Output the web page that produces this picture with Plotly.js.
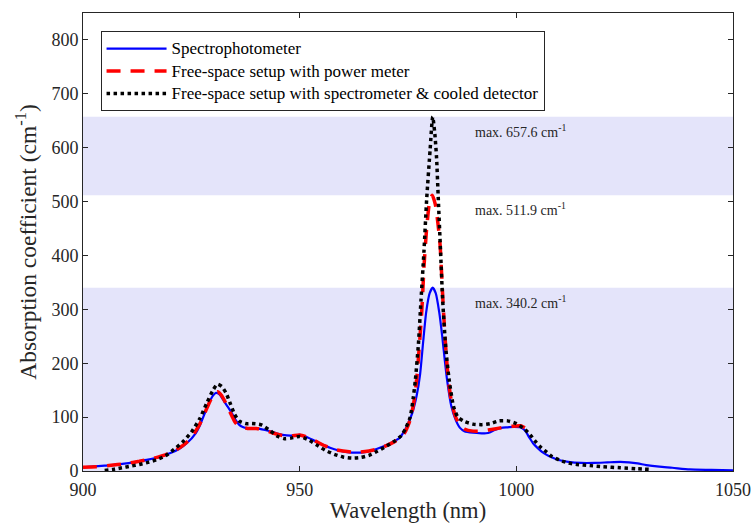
<!DOCTYPE html>
<html>
<head>
<meta charset="utf-8">
<script src="https://cdn.plot.ly/plotly-3.0.1.min.js"></script>
<style>
  html, body { margin: 0; padding: 0; background: #fff; }
  #chart { width: 755px; height: 529px; }
</style>
</head>
<body>
<div id="chart"></div>
<script>
// Spectrophotometer measurement (nm, cm^-1)
const specWl = [900, 902, 905, 908, 910, 913, 915, 918, 920, 922, 924, 926, 927, 928, 929, 930, 930.7, 931.5, 932.5, 933.5, 934.5, 935.5, 936.5, 938, 940, 942, 944, 945, 947, 949, 950, 951, 953, 955, 957, 959, 961, 963, 965, 967, 968.5, 970, 971.5, 973, 974, 975, 976, 977, 977.8, 978.5, 979.2, 980, 980.7, 981.4, 982.2, 982.9, 983.5, 984, 985, 986, 987, 988, 990, 992, 993, 994, 995, 996.5, 998, 999.5, 1001, 1002, 1003, 1004, 1005, 1006, 1007, 1008, 1010, 1012, 1015, 1018, 1021, 1024, 1026, 1028, 1030, 1033, 1036, 1040, 1045, 1050];
const specAbs = [7, 8, 10, 12, 14, 18, 21, 27, 33, 40, 52, 70, 85, 105, 125, 140, 145, 142, 130, 118, 105, 91, 83, 79, 79, 76, 72, 69, 66, 66, 67, 65, 58, 50, 43, 38, 35, 34, 35, 39, 43, 48, 54, 61, 72, 88, 108, 140, 180, 240, 295, 330, 340.2, 330, 295, 250, 205, 170, 120, 95, 80, 74, 71, 70, 70, 72, 76, 80, 81, 82, 81, 75, 62, 50, 42, 35, 30, 26, 20, 17, 15, 15, 16, 17, 16, 14, 11, 8, 6, 3, 2, 1];

// Free-space setup with power meter
const pmWl = [900, 903, 906, 910, 913, 916, 919, 921, 923, 925, 927, 928.5, 930, 931, 932, 933, 934, 935, 936, 938, 940, 942, 944, 946, 948, 950, 952, 954, 956, 958, 960, 962, 964, 966, 968, 970, 972, 973.5, 974.5, 975.5, 976.3, 977, 977.6, 978.2, 978.7, 979.3, 980, 980.6, 981.3, 981.9, 982.4, 983.1, 983.7, 984.3, 985, 986, 987, 988, 990, 992, 993.5, 995, 997, 999, 1001, 1002];
const pmAbs = [7, 8, 10, 14, 18, 23, 30, 37, 47, 62, 88, 115, 140, 147, 140, 125, 108, 92, 83, 79, 79, 76, 70, 66, 65, 67, 62, 54, 46, 40, 37, 35, 35, 37, 41, 47, 55, 63, 75, 95, 125, 170, 230, 300, 380, 450, 500, 511.9, 495, 460, 420, 310, 230, 170, 130, 100, 85, 78, 74, 74, 76, 78, 81, 83, 84, 80];

// Free-space setup with spectrometer & cooled detector
const ccdWl = [905, 907, 909, 911, 913, 915, 917, 919, 921, 923, 925, 927, 928.5, 930, 931, 932, 933, 934, 935, 936, 937.5, 939, 941, 943, 945, 946.5, 948, 950, 952, 954, 956, 958, 960, 962, 964, 966, 968, 970, 972, 973.5, 974.5, 975.5, 976.2, 976.7, 977.4, 978, 978.7, 979.3, 980.1, 980.7, 981.2, 981.6, 982, 982.5, 983, 983.7, 984.5, 985.5, 986.5, 988, 990, 992, 994, 996, 998, 1000, 1002, 1003.2, 1004.5, 1005.5, 1007, 1008, 1010, 1012, 1014, 1017, 1020, 1024, 1028, 1031];
const ccdAbs = [1, 3, 6, 9, 12, 16, 21, 28, 40, 54, 72, 98, 125, 150, 161, 157, 145, 125, 105, 93, 88, 88, 86, 76, 64, 60, 61, 64, 58, 48, 38, 31, 26, 24, 25, 29, 37, 46, 56, 66, 80, 100, 135, 169, 235, 317, 410, 503, 596, 657.6, 625, 580, 503, 410, 317, 230, 169, 120, 100, 92, 87, 86, 88, 93, 93, 88, 77, 67, 54, 45, 35, 28, 20, 15, 12, 10, 8, 6, 4, 3];

const seriesNames = [
  'Spectrophotometer',
  'Free-space setup with power meter',
  'Free-space setup with spectrometer &amp; cooled detector'
];
const peakMax = [340.2, 511.9, 657.6];
const xTicks = [900, 950, 1000, 1050];
const yTicks = [0, 100, 200, 300, 400, 500, 600, 700, 800];

const serif = 'Liberation Serif, Times New Roman, serif';
const inkGray = '#262626';
const bandFill = '#e4e4fa';

// legend entries are set slightly larger than the row pitch of the legend font
const legendLabel = s => '<span style="font-size:17px">' + s + '</span>';

const traces = [
  { x: specWl, y: specAbs, name: legendLabel(seriesNames[0]), mode: 'lines',
    line: { color: '#0000ff', width: 2.2, shape: 'spline', smoothing: 0.6 } },
  { x: pmWl, y: pmAbs, name: legendLabel(seriesNames[1]), mode: 'lines',
    line: { color: '#ff0000', width: 3.5, dash: '14px,10px', shape: 'spline', smoothing: 0.6 } },
  { x: ccdWl, y: ccdAbs, name: legendLabel(seriesNames[2]), mode: 'lines',
    line: { color: '#000000', width: 3.5, dash: '3.5px,3.5px', shape: 'spline', smoothing: 0.6 } }
];

// Shaded bands: 0 .. first max, and second max .. third max
const shapes = [
  { type: 'rect', xref: 'paper', x0: 0, x1: 1, yref: 'y', y0: 0, y1: peakMax[0],
    fillcolor: bandFill, line: { width: 0 }, layer: 'below' },
  { type: 'rect', xref: 'paper', x0: 0, x1: 1, yref: 'y', y0: peakMax[1], y1: peakMax[2],
    fillcolor: bandFill, line: { width: 0 }, layer: 'below' }
];

const annotations = peakMax.map(v => ({
  x: 990, y: v, xref: 'x', yref: 'y', xanchor: 'left', yanchor: 'top', yshift: -3,
  text: 'max. ' + v.toFixed(1) + ' cm<sup>-1</sup>', showarrow: false,
  font: { family: serif, size: 14, color: inkGray }
}));

const layout = {
  width: 755, height: 529,
  margin: { l: 83, r: 22, t: 13, b: 58 },
  paper_bgcolor: '#ffffff', plot_bgcolor: '#ffffff',
  font: { family: serif, color: inkGray },
  showlegend: true,
  legend: {
    x: 0.027, y: 0.96, xanchor: 'left', yanchor: 'top',
    bgcolor: '#ffffff', bordercolor: inkGray, borderwidth: 1,
    font: { family: serif, size: 15, color: '#000' },
    tracegroupgap: 0, itemwidth: 60
  },
  xaxis: {
    range: [900, 1050], tickvals: xTicks, ticks: 'inside', ticklen: 5, tickcolor: inkGray,
    showline: true, linecolor: inkGray, linewidth: 1, mirror: 'ticks', showgrid: false, zeroline: false,
    tickfont: { family: serif, size: 18, color: inkGray }, ticklabelstandoff: 2,
    title: { text: 'Wavelength (nm)', font: { family: serif, size: 22.5, color: inkGray }, standoff: 3 }
  },
  yaxis: {
    range: [0, 850], tickvals: yTicks, ticks: 'inside', ticklen: 5, tickcolor: inkGray,
    showline: true, linecolor: inkGray, linewidth: 1, mirror: 'ticks', showgrid: false, zeroline: false,
    tickfont: { family: serif, size: 18, color: inkGray },
    title: { text: 'Absorption coefficient (cm<sup>-1</sup>)', font: { family: serif, size: 23.5, color: inkGray }, standoff: 8 }
  },
  shapes: shapes,
  annotations: annotations
};

Plotly.newPlot('chart', traces, layout, { displayModeBar: false, staticPlot: true });
</script>
</body>
</html>
